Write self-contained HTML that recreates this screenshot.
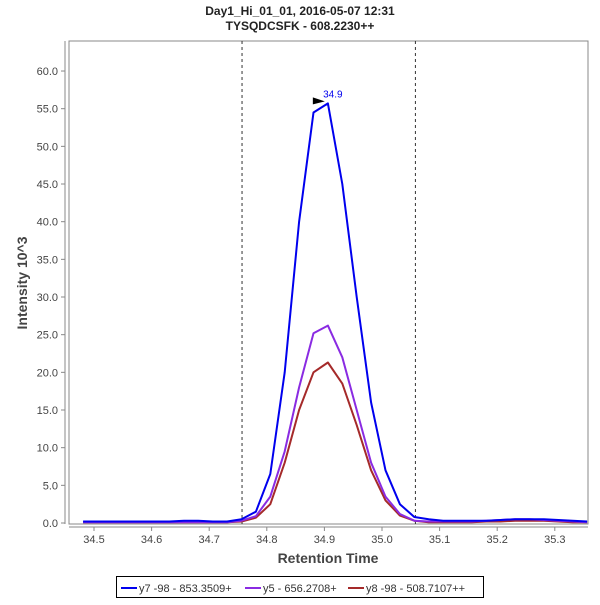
<!DOCTYPE html>
<html><head><meta charset="utf-8"><style>
body{margin:0;background:#fff;}
svg text{font-family:"Liberation Sans",sans-serif;}
</style></head><body>
<svg id="chart" width="600" height="600">
<text x="300" y="15" text-anchor="middle" font-size="12" font-weight="bold" fill="#222">Day1_Hi_01_01, 2016-05-07 12:31</text>
<text x="300" y="30" text-anchor="middle" font-size="12" font-weight="bold" fill="#222">TYSQDCSFK - 608.2230++</text>
<rect x="69" y="41" width="519" height="483" fill="#fff" stroke="#888" stroke-width="1"/>
<line x1="65" y1="41" x2="65" y2="524" stroke="#888"/>
<line x1="69" y1="527" x2="588" y2="527" stroke="#888"/>
<g id="yticks"></g><g id="xticks"></g>
<g id="marks"></g>
<text transform="translate(27,283) rotate(-90)" text-anchor="middle" font-size="14" font-weight="bold" fill="#444">Intensity 10^3</text>
<text x="328" y="563" text-anchor="middle" font-size="14" font-weight="bold" fill="#444">Retention Time</text>
<g>
<rect x="116.5" y="576.5" width="367" height="21" fill="#fff" stroke="#000"/>
<line x1="121" y1="588" x2="137" y2="588" stroke="#0000ee" stroke-width="2"/>
<text x="139" y="592" font-size="11" fill="#333">y7 -98 - 853.3509+</text>
<line x1="245" y1="588" x2="261" y2="588" stroke="#8a2be2" stroke-width="2"/>
<text x="263" y="592" font-size="11" fill="#333">y5 - 656.2708+</text>
<line x1="348" y1="588" x2="364" y2="588" stroke="#a52a2a" stroke-width="2"/>
<text x="366" y="592" font-size="11" fill="#333">y8 -98 - 508.7107++</text>
</g>
</svg>
<script>
const t0 = 34.481, dt = 0.025;
const y7 = [0.2,0.2,0.2,0.2,0.2,0.2,0.2,0.3,0.3,0.2,0.2,0.5,1.5,6.5,20,40,54.5,55.7,45,30,16,7,2.5,0.8,0.5,0.3,0.3,0.3,0.3,0.4,0.5,0.5,0.5,0.4,0.3,0.2];
const y5 = [0.1,0.1,0.1,0.1,0.1,0.1,0.1,0.1,0.1,0.1,0.1,0.3,0.9,3.5,9.5,18,25.2,26.2,22,15,8,3.5,1.2,0.3,0.2,0.2,0.2,0.2,0.3,0.4,0.5,0.5,0.4,0.3,0.2,0.1];
const y8 = [0.1,0.1,0.1,0.1,0.1,0.1,0.1,0.1,0.1,0.1,0.1,0.2,0.7,2.5,8,15,20,21.3,18.5,13,7,3,1,0.3,0.1,0.1,0.1,0.1,0.2,0.2,0.3,0.3,0.3,0.2,0.1,0.1];
const yTicks = [0,5,10,15,20,25,30,35,40,45,50,55,60];
const xTicks = [34.5,34.6,34.7,34.8,34.9,35.0,35.1,35.2,35.3];
const boundaries = [34.757, 35.058];
const peakTime = 34.9;
const NS='http://www.w3.org/2000/svg';
const X = v => 94 + (v - 34.5) * 576;
const Y = v => 523 - v * 7.533;
function mk(tag, attrs, parent){const e=document.createElementNS(NS,tag);for(const k in attrs)e.setAttribute(k,attrs[k]);parent.appendChild(e);return e;}
const yt=document.getElementById('yticks'), xt=document.getElementById('xticks'), marks=document.getElementById('marks');
yTicks.forEach(v=>{
  const l=mk('line',{x1:61,x2:65,y1:Y(v),y2:Y(v),stroke:'#888'},yt);
  
  
  const tx=mk('text',{x:58,y:Y(v)+4,'text-anchor':'end','font-size':11,fill:'#444'},yt);
  
  
  tx.textContent=v.toFixed(1);
});
xTicks.forEach(v=>{
  const l=mk('line',{x1:X(v),x2:X(v),y1:527,y2:531,stroke:'#888'},xt);
  
  
  const tx=mk('text',{x:X(v),y:543,'text-anchor':'middle','font-size':11,fill:'#444'},xt);
  
  
  tx.textContent=v.toFixed(1);
});
boundaries.forEach(v=>{
  const l=mk('line',{x1:X(v),x2:X(v),y1:41,y2:524,stroke:'#333','stroke-dasharray':'3,3'},marks);
  
  
});
[[y8,'#a52a2a','series-y8'],[y5,'#8a2be2','series-y5'],[y7,'#0000ee','series-y7']].forEach(([d,c,n])=>{
  const pts=d.map((v,i)=>X(t0+i*dt).toFixed(1)+','+Y(v).toFixed(1)).join(' ');
  const p=mk('polyline',{points:pts,fill:'none',stroke:c,'stroke-width':2,'stroke-linejoin':'round'},marks);
  
  
});
const imax=y7.indexOf(Math.max(...y7));
const px=X(t0+imax*dt), py=Y(y7[imax]);
const tri=mk('polygon',{points:`${px-15},${py-6} ${px-3},${py-2} ${px-15},${py+1}`,fill:'#000'},marks);


const lab=mk('text',{x:px+5,y:py-6,'text-anchor':'middle','font-size':10,fill:'#0000ee'},marks);


lab.textContent=peakTime.toFixed(1);
</script>
</body></html>
